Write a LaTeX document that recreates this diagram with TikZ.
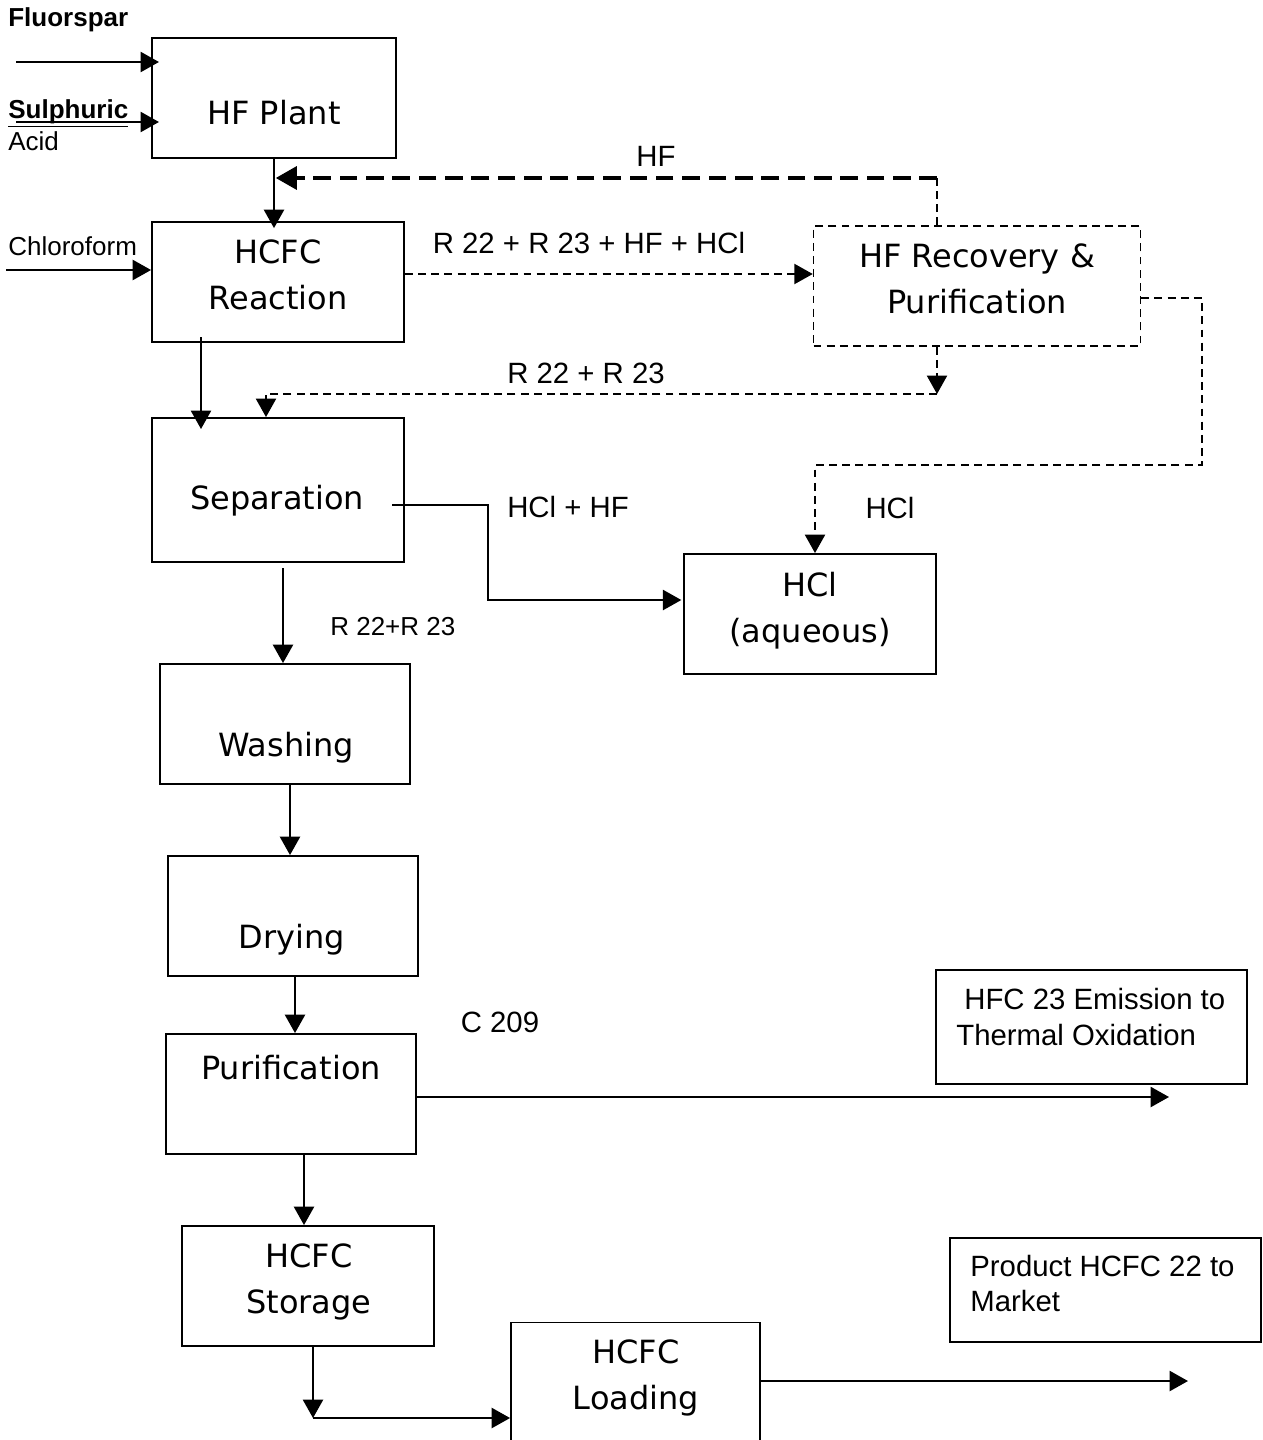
\documentclass[tikz,border=0pt]{standalone}
\usepackage{fontspec}
\setmainfont{Liberation Sans}
\newfontfamily\dvs{DejaVu Sans}
\usetikzlibrary{arrows.meta,calc}
\begin{document}
\begin{tikzpicture}[x=0.02cm,y=-0.02cm,
  box/.style={draw, line width=1.1pt, inner sep=0pt},
  dbox/.style={box, line width=0.9pt, dash pattern=on 4.5pt off 3pt},
  btxt/.style={font=\dvs\fontsize{18.2}{22}\selectfont, anchor=base, inner sep=0pt},
  lbl/.style={font=\fontsize{16.7}{20}\selectfont, anchor=base, inner sep=0pt},
  lblw/.style={font=\fontsize{16.7}{20}\selectfont, anchor=base west, inner sep=0pt},
  slbl/.style={font=\fontsize{14.8}{18}\selectfont, anchor=base west, inner sep=0pt},
  arr/.style={line width=1.1pt, -{Triangle[length=10.5pt,width=11.5pt]}},
  dln/.style={line width=0.9pt, dash pattern=on 4.5pt off 3pt},
  darr/.style={arr, dln},
  tarr/.style={line width=2.2pt, dash pattern=on 10pt off 5pt, -{Triangle[length=12pt,width=13pt]}}
]
\useasboundingbox (0,0) rectangle (1262,1440);
% boxes
\node[box, minimum width=4.88cm, minimum height=2.4cm] (plant) at (274,98) {};
\node[box, minimum width=5.04cm, minimum height=2.4cm] (react) at (278,282) {};
\node[dbox, minimum width=6.54cm, minimum height=2.4cm] (recov) at (977,286) {};
\node[box, minimum width=5.04cm, minimum height=2.88cm] (sep) at (278,490) {};
\node[box, minimum width=5.04cm, minimum height=2.4cm] (hcl) at (810,614) {};
\node[box, minimum width=5.0cm, minimum height=2.4cm] (wash) at (285,724) {};
\node[box, minimum width=5.0cm, minimum height=2.4cm] (dry) at (293,916) {};
\node[box, minimum width=5.0cm, minimum height=2.4cm] (pur) at (291,1094) {};
\node[box, minimum width=5.04cm, minimum height=2.4cm] (stor) at (308,1286) {};
\node[box, minimum width=4.98cm, minimum height=2.46cm] (load) at (635.5,1384) {};
\node[box, minimum width=6.22cm, minimum height=2.28cm] (emis) at (1091.5,1027) {};
\node[box, minimum width=6.22cm, minimum height=2.08cm] (prod) at (1105.5,1290) {};
% box texts
\node[btxt] (plantt) at (274,124) {HF Plant};
\node[btxt] (reactt1) at (278,263) {HCFC};
\node[btxt] (reactt2) at (278,309) {Reaction};
\node[btxt] (recovt1) at (977,267) {HF Recovery \&};
\node[btxt] (recovt2) at (977,313) {Purification};
\node[btxt] (sept) at (277,509) {Separation};
\node[btxt] (hclt1) at (810,596) {HCl};
\node[btxt] (hclt2) at (810,642) {(aqueous)};
\node[btxt] (washt) at (286,756) {Washing};
\node[btxt] (dryt) at (292,948) {Drying};
\node[btxt] (purt) at (291,1079) {Purification};
\node[btxt] (stort1) at (309,1267) {HCFC};
\node[btxt] (stort2) at (309,1313) {Storage};
\node[btxt] (loadt1) at (636,1363) {HCFC};
\node[btxt] (loadt2) at (636,1409) {Loading};
\node[lblw] (emist1) at (964,1009) {HFC 23 Emission to};
\node[lblw] (emist2) at (956,1045) {Thermal Oxidation};
\node[lblw] (prodt1) at (970,1276) {Product HCFC 22 to};
\node[lblw] (prodt2) at (970,1311) {Market};
% input labels
\node[slbl] (fluor) at (8,27) {\textbf{Fluorspar}};
\node[slbl] (sulph) at (8,118) {\underline{\textbf{Sulphuric}}};
\node[slbl] (acid) at (8,150) {Acid};
\node[slbl] (chlor) at (8,255) {Chloroform};
% stream labels
\node[lbl] (lhf) at (656,166) {HF};
\node[lbl] (lmix) at (589,253) {R 22 + R 23 + HF + HCl};
\node[lbl] (lrr) at (586,383) {R 22 + R 23};
\node[lbl] (lhclhf) at (568,517) {HCl + HF};
\node[lbl] (lhcl) at (890,518) {HCl};
\node[slbl] (lrr2) at (330,635) {R 22+R 23};
\node[lbl] (lc) at (500,1032) {C 209};
% connectors
\coordinate (fin) at (16,62);
\coordinate (sin) at (16,122);
\coordinate (cin) at (6,270);
\draw[arr, shorten >=-4.5pt] (fin) -- (fin -| plant.west);
\draw[arr, shorten >=-4.5pt] (sin) -- (sin -| plant.west);
\draw[arr] (cin) -- (cin -| react.west);
\draw[arr, shorten >=-4pt] (plant.south) -- (plant.south |- react.north);
\coordinate (hfa) at (937,178);
\draw[dln] (recov.north -| hfa) -- (hfa);
\draw[tarr, shorten >=1pt] (hfa) -- (hfa -| plant.south);
\coordinate (ra) at (404,274);
\draw[darr] (react.east |- ra) -- (ra -| recov.west);
\coordinate (rb) at (937,394);
\coordinate (rc) at (266,394);
\draw[darr] (recov.south -| rb) -- (rb);
\draw[darr] (rb) -- (rc) -- (rc |- sep.north);
\coordinate (rs) at (201,337);
\draw[arr, shorten >=-6.8pt] (rs) -- (rs |- sep.north);
\coordinate (sa) at (392,505);
\coordinate (sb) at (488,505);
\coordinate (sc) at (488,600);
\draw[arr, shorten >=1pt] (sa) -- (sb) -- (sc) -- (sc -| hcl.west);
\coordinate (ha) at (1202,298);
\coordinate (hb) at (1202,465);
\coordinate (hc) at (815,465);
\draw[darr] (recov.east |- ha) -- (ha) -- (hb) -- (hc) -- (hc |- hcl.north);
\coordinate (sw) at (283,568);
\draw[arr] (sw) -- (sw |- wash.north);
\coordinate (wd) at (290,784);
\draw[arr] (wash.south -| wd) -- (wd |- dry.north);
\coordinate (dp) at (295,976);
\draw[arr] (dry.south -| dp) -- (dp |- pur.north);
\coordinate (pr) at (1169,1097);
\draw[arr] (pur.east |- pr) -- (pr);
\coordinate (ps) at (304,1154);
\draw[arr] (pur.south -| ps) -- (ps |- stor.north);
\coordinate (sl) at (313,1418);
\draw[arr] (stor.south -| sl) -- (sl);
\draw[arr] (sl) -- (sl -| load.west);
\coordinate (lr) at (1188,1381);
\draw[arr] (load.east |- lr) -- (lr);
\end{tikzpicture}
\end{document}
